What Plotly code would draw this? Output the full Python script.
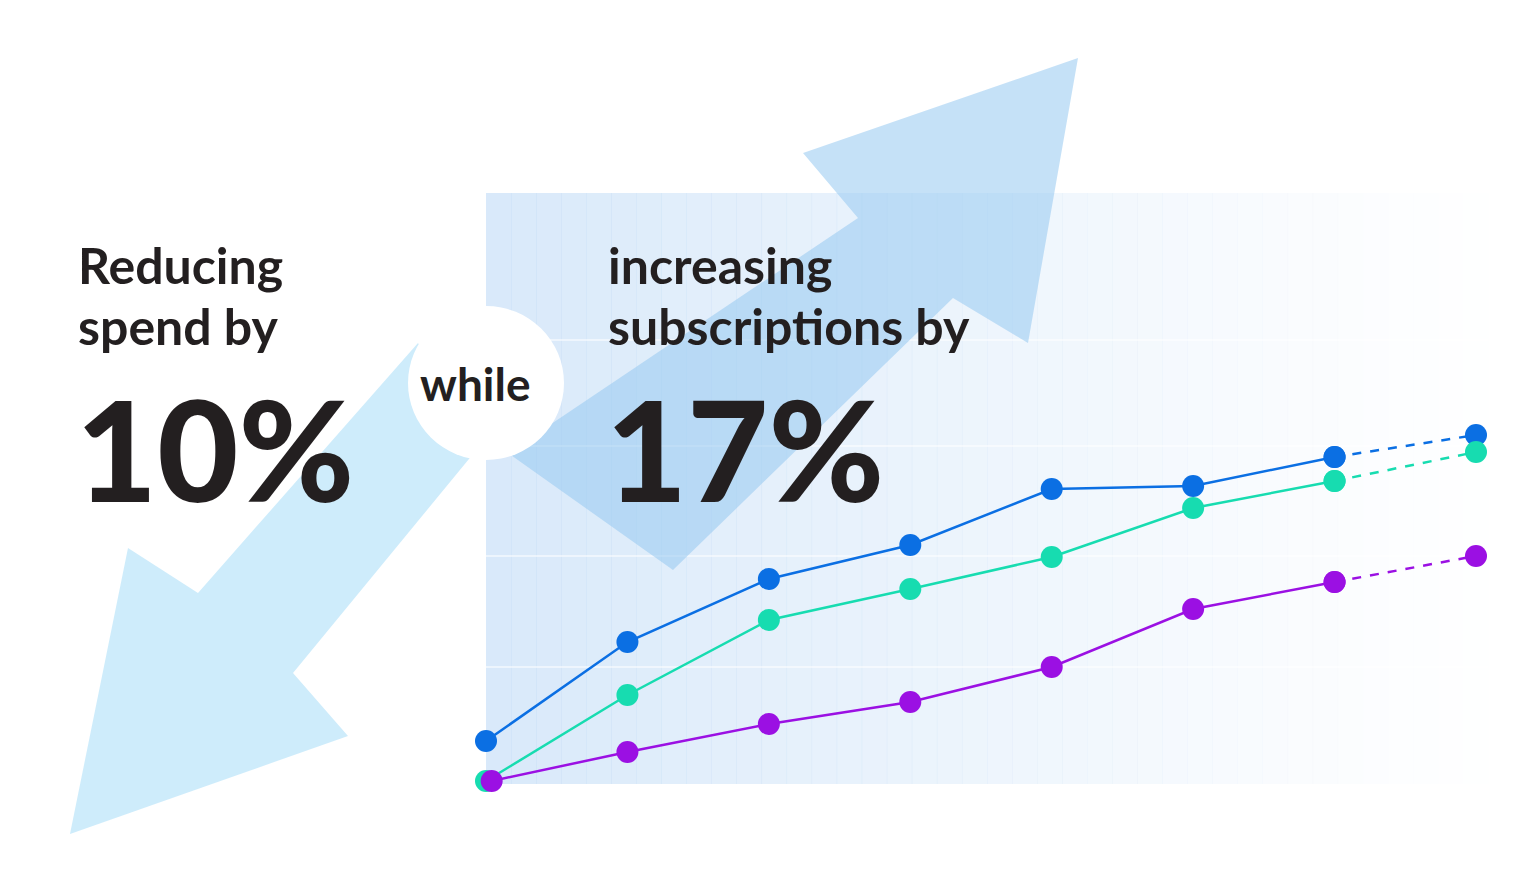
import plotly.graph_objects as go

periods = [0, 1, 2, 3, 4, 5, 6, 7]
blue = [4.0, 13.9, 20.2, 23.6, 29.2, 29.5, 32.4, 34.6]
green = [0.0, 8.6, 16.1, 19.2, 22.4, 27.3, 30.0, 32.9]
purple = [0.0, 2.9, 5.7, 7.9, 11.4, 17.2, 19.9, 22.5]
purple_x = [0.04, 1, 2, 3, 4, 5, 6, 7]

W, H = 1536, 873
def P(px, py):
    return px / W, 1 - py / H

def path(pts):
    s = ""
    for i, (px, py) in enumerate(pts):
        x, y = P(px, py)
        s += ("M" if i == 0 else "L") + f"{x:.5f},{y:.5f} "
    return s + "Z"

shapes = []
# gradient panel
n = 40
x0, x1, yt, yb = 478, 1480, 185, 776
for i in range(n):
    a = 0.55 * (1 - i / n) ** 1.2
    xa, _ = P(x0 + (x1 - x0) * i / n, 0)
    xb, _ = P(x0 + (x1 - x0) * (i + 1) / n + 0.5, 0)
    _, ya = P(0, yt); _, yb_ = P(0, yb)
    shapes.append(dict(type="rect", xref="paper", yref="paper", x0=xa, x1=xb, y0=yb_, y1=ya,
                       fillcolor=f"rgba(185,215,245,{a:.3f})", line_width=0, layer="below"))
for gy in [332, 438, 548, 659]:
    xa, y = P(478, gy); xb, _ = P(1480, gy)
    shapes.append(dict(type="line", xref="paper", yref="paper", x0=xa, x1=xb, y0=y, y1=y,
                       line=dict(color="rgba(255,255,255,0.7)", width=1.5), layer="below"))
# down arrow
shapes.append(dict(type="path", xref="paper", yref="paper", layer="below",
    path=path([(62, 826), (120, 540), (190, 585), (410, 335), (470, 440), (285, 665), (340, 728)]),
    fillcolor="rgba(190,230,250,0.75)", line_width=0))
# up arrow
shapes.append(dict(type="path", xref="paper", yref="paper", layer="below",
    path=path([(1070, 50), (1020, 335), (945, 290), (665, 562), (500, 445), (850, 210), (795, 145)]),
    fillcolor="rgba(150,200,240,0.55)", line_width=0))
# circle
cx0, cy0 = P(400, 298); cx1, cy1 = P(556, 452)
shapes.append(dict(type="circle", xref="paper", yref="paper", x0=cx0, x1=cx1, y0=cy1, y1=cy0,
                   fillcolor="white", line_width=0, layer="below"))

fig = go.Figure()
for name, xs, ys, col in [("blue", periods, blue, "#0b6fe3"), ("green", periods, green, "#17dcb0"),
                          ("purple", purple_x, purple, "#9b10e3")]:
    fig.add_trace(go.Scatter(x=xs[:7], y=ys[:7], mode="lines+markers",
                             line=dict(color=col, width=2.5), marker=dict(size=22, color=col)))
    fig.add_trace(go.Scatter(x=xs[6:], y=ys[6:], mode="lines+markers",
                             line=dict(color=col, width=2.5, dash="dash"),
                             marker=dict(size=22, color=col)))

pxu = (1468 - 478) / 7
fig.update_xaxes(range=[-478 / pxu, (W - 478) / pxu], visible=False)
fig.update_yaxes(range=[-(H - 773) / 10, 773 / 10], visible=False)

txt = "#231f20"
ann = []
def A(text, px, py, size, **kw):
    x, y = P(px, py)
    ann.append(dict(text=text, x=x, y=y, xref="paper", yref="paper", xanchor="left", yanchor="middle",
                    showarrow=False, align="left", font=dict(family="Lato", size=size, color=txt, weight=kw.get("w", 700))))
A("Reducing", 68, 257, 50)
A("spend by", 68, 318, 50)
A("10%", 66, 440, 140, w=900)
A("increasing", 598, 257, 50)
A("subscriptions by", 598, 318, 50)
A("17%", 596, 440, 140, w=900)
A("while", 410, 375, 46)

fig.update_layout(width=W, height=H, margin=dict(l=0, r=0, t=0, b=0), showlegend=False,
                  paper_bgcolor="white", plot_bgcolor="rgba(0,0,0,0)", shapes=shapes, annotations=ann)
fig.write_html("out.html")
